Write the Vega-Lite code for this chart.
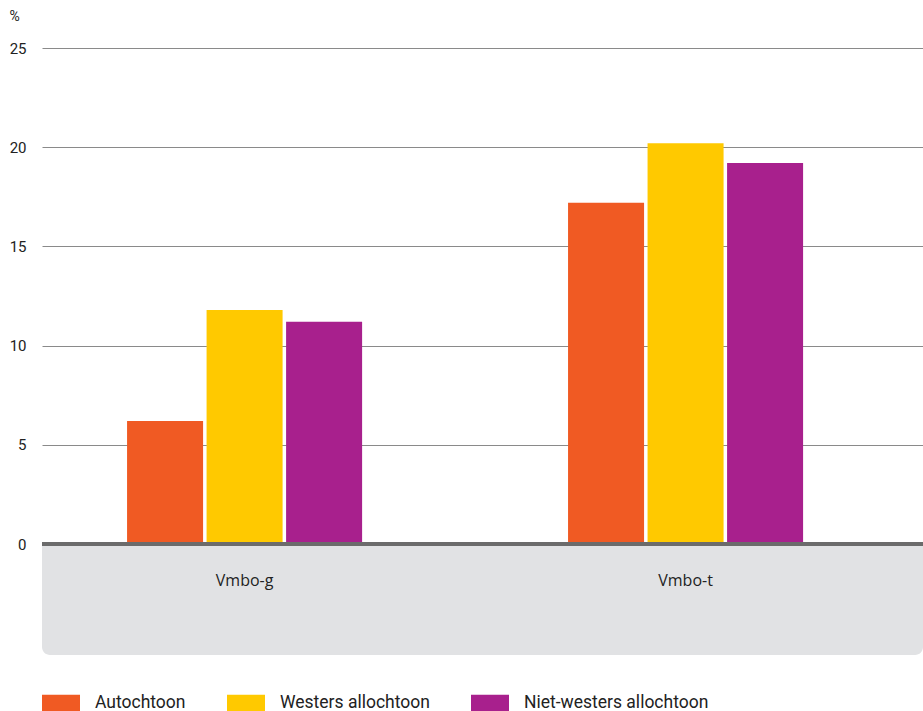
{
  "$schema": "https://vega.github.io/schema/vega-lite/v6.json",
  "width": 881,
  "height": 496,
  "autosize": {"type": "none"},
  "padding": {"left": 42, "top": 48, "right": 0, "bottom": 167},
  "background": "white",
  "config": {
    "view": {"stroke": null},
    "font": "Roboto",
    "axis": {"labelFont": "Roboto", "titleFont": "Roboto"},
    "legend": {"labelFont": "Roboto"}
  },
  "datasets": {
    "bars": [
      {"niveau": "Vmbo-g", "groep": "Autochtoon", "pct": 6.2},
      {"niveau": "Vmbo-g", "groep": "Westers allochtoon", "pct": 11.8},
      {"niveau": "Vmbo-g", "groep": "Niet-westers allochtoon", "pct": 11.2},
      {"niveau": "Vmbo-t", "groep": "Autochtoon", "pct": 17.2},
      {"niveau": "Vmbo-t", "groep": "Westers allochtoon", "pct": 20.2},
      {"niveau": "Vmbo-t", "groep": "Niet-westers allochtoon", "pct": 19.2}
    ],
    "band": [{"top": 0, "bottom": -5.6}]
  },
  "layer": [
    {
      "data": {"name": "band"},
      "mark": {"type": "rect", "color": "#e1e2e4", "cornerRadiusBottomLeft": 8, "cornerRadiusBottomRight": 8},
      "encoding": {
        "y": {"field": "top", "type": "quantitative", "scale": {"domain": [0, 25]}},
        "y2": {"field": "bottom"}
      }
    },
    {
      "data": {"name": "bars"},
      "mark": {"type": "bar"},
      "encoding": {
        "x": {
          "field": "niveau", "type": "nominal", "sort": ["Vmbo-g", "Vmbo-t"],
          "scale": {"paddingInner": 0.467, "paddingOuter": 0.2324, "align": 0.415},
          "axis": {"title": null, "labelAngle": 0, "domain": false, "ticks": false, "grid": false, "labelPadding": 28, "labelFont": "Open Sans", "labelFontSize": 16, "labelColor": "#222222", "zindex": 2}
        },
        "xOffset": {
          "field": "groep", "type": "nominal",
          "sort": ["Autochtoon", "Westers allochtoon", "Niet-westers allochtoon"],
          "scale": {"paddingInner": 0.044, "paddingOuter": 0}
        },
        "y": {
          "field": "pct", "type": "quantitative",
          "scale": {"domain": [0, 25], "nice": false},
          "axis": {
            "values": [0, 5, 10, 15, 20, 25],
            "title": "%", "titleAngle": 0, "titleAlign": "left", "titleBaseline": "top",
            "titleX": -33, "titleY": -39, "titleFontSize": 14, "titleFontWeight": "normal", "titleColor": "#222222",
            "domain": false, "ticks": false, "labelPadding": 16, "labelFontSize": 15, "labelColor": "#222222",
            "grid": true, "gridColor": "#8a8a8a", "gridWidth": 1
          }
        },
        "color": {
          "field": "groep", "type": "nominal",
          "sort": ["Autochtoon", "Westers allochtoon", "Niet-westers allochtoon"],
          "scale": {"domain": ["Autochtoon", "Westers allochtoon", "Niet-westers allochtoon"], "range": ["#f05a23", "#ffc900", "#a8208d"]},
          "legend": {
            "title": null, "orient": "none", "direction": "horizontal",
            "legendX": 0, "legendY": 636,
            "symbolType": "M-1,-0.447h2v0.894h-2z", "symbolSize": 1444, "symbolStrokeWidth": 0, "symbolOpacity": 1,
            "labelFontSize": 17.5, "labelColor": "#222222", "labelOffset": 15, "columnPadding": 41, "labelLimit": 400
          }
        }
      }
    },
    {
      "data": {"name": "band"},
      "mark": {"type": "rule", "color": "#6b6b6b", "strokeWidth": 4},
      "encoding": {
        "y": {"field": "top", "type": "quantitative"}
      }
    }
  ]
}
